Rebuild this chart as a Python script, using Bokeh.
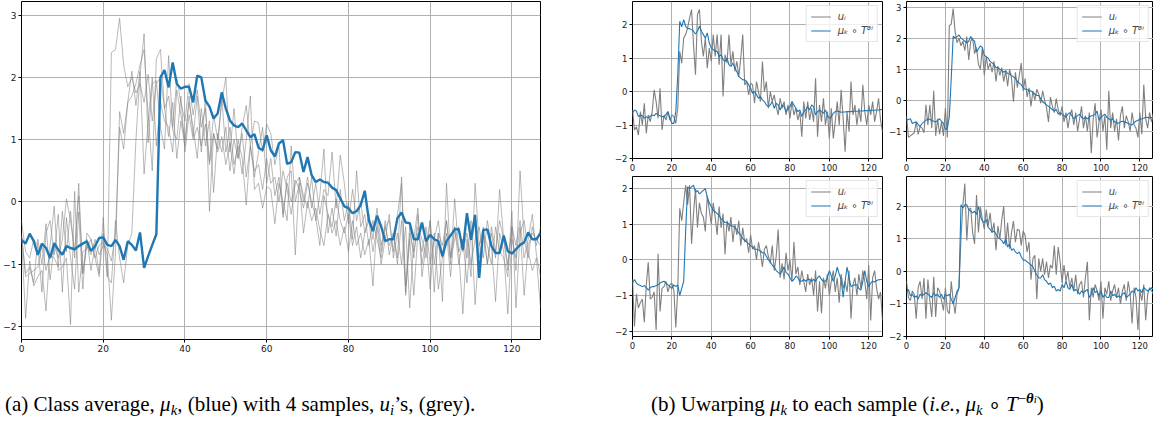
from bokeh.plotting import figure
from bokeh.layouts import row, column
from bokeh.models import Range1d, FixedTicker, Div, Spacer
from bokeh.embed import file_html
from bokeh.resources import INLINE

x = list(range(128))

class_mean = [
    -0.61, -0.67, -0.51, -0.63, -0.85, -0.67, -0.74, -0.90, -0.66, -0.77, -0.85, -0.71, -0.74, -0.76, -0.71, -0.67,
    -0.63, -0.79, -0.71, -0.58, -0.57, -0.69, -0.71, -0.61, -0.71, -0.93, -0.63, -0.69, -0.78, -0.49, -1.06, -0.87,
    -0.69, -0.52, 2.00, 2.12, 1.84, 2.24, 1.90, 1.82, 1.85, 1.85, 1.60, 2.03, 2.00, 1.63, 1.53, 1.34,
    1.42, 1.76, 1.50, 1.31, 1.23, 1.20, 1.26, 1.15, 1.04, 1.09, 0.87, 0.83, 1.07, 0.83, 0.73, 0.94,
    0.99, 0.61, 0.64, 0.80, 0.79, 0.48, 0.72, 0.43, 0.32, 0.36, 0.32, 0.31, 0.23, 0.19, 0.06, -0.07,
    -0.10, -0.18, -0.15, -0.05, 0.18, -0.29, -0.47, -0.22, -0.39, -0.63, -0.60, -0.60, -0.26, -0.17, -0.33, -0.34,
    -0.60, -0.60, -0.33, -0.63, -0.53, -0.60, -0.63, -0.87, -0.63, -0.54, -0.44, -0.44, -0.77, -0.18, -0.61, -0.21,
    -1.22, -0.45, -0.44, -0.71, -0.82, -0.82, -0.54, -0.79, -0.83, -0.76, -0.69, -0.65, -0.49, -0.60, -0.60, -0.50,
]

sample_1 = [
    -0.55, -1.15, -1.05, -1.30, -0.60, -1.00, -0.35, -1.25, -0.70, -0.90, -0.60, 0.05, -0.30, -0.80, 0.10, -1.15,
    -0.70, -0.85, -0.60, -0.85, -0.70, -0.75, -0.95, -0.50, 1.20, 0.85, 1.60, 1.70, 1.90, 2.20, 2.45, 1.40,
    0.50, 2.30, 2.45, 1.50, 1.05, 1.60, 0.70, 1.30, 0.90, 1.70, 1.05, 1.70, 0.80, 1.70, -0.15, 1.10,
    0.85, 1.70, 0.80, 1.20, 0.60, 0.90, 0.45, 1.00, 1.70, 0.20, 0.30, -0.10, 0.25, 0.20, -0.35, 0.30,
    0.00, -0.30, 0.90, 0.00, 0.30, -0.50, 0.00, -0.30, -0.10, -0.45, -0.70, -0.20, -0.50, -0.30, -0.70, -0.40,
    -0.80, -0.30, -0.70, -0.50, -0.85, -0.60, -1.35, -0.30, -0.80, -0.30, -0.85, -0.50, -0.90, 0.40, -1.35, -0.40,
    -0.90, -0.20, -1.00, -0.60, -1.40, -0.50, -1.40, -0.90, -0.30, -1.00, 0.05, -0.80, -1.80, -0.60, -1.20, 0.30,
    -0.70, -0.40, -1.00, -0.50, -0.90, 0.20, -0.60, -1.00, -0.40, -0.70, -0.30, -0.90, -0.60, -0.20, -0.85, -1.20,
]

sample_2 = [
    -0.50, -1.20, -1.15, -1.10, -1.05, -0.70, -1.10, -0.85, -0.90, -1.05, -0.15, -0.80, -0.15, -0.90, 0.30, -1.15,
    -0.60, -1.10, -0.70, -1.15, -0.25, -1.20, 2.40, 2.45, 2.95, 2.20, 1.85, 2.00, 1.75, 1.90, 1.60, 2.05,
    1.30, 1.90, 2.00, 1.50, 1.70, 1.15, 1.00, 1.70, 0.80, 1.40, 1.00, 1.20, 0.90, 1.25, 0.60, 1.10,
    0.80, 1.05, 0.60, 0.95, 0.45, 1.00, 0.70, -0.05, 0.90, 0.40, 0.80, 1.20, 0.30, 0.70, 0.10, 0.40,
    -0.20, 0.30, 0.00, 0.35, 0.20, -0.10, 0.30, 0.00, -0.25, -0.70, 0.10, -0.20, -0.40, 0.05, -0.30, -0.50,
    -0.20, -0.70, -0.40, -0.90, -0.50, -0.30, -0.80, -0.40, -1.00, -0.60, -0.20, -0.90, -0.50, -1.00, -0.40, -1.70,
    -0.60, -0.10, -1.20, -0.70, -0.30, -1.00, -0.50, -1.60, 0.30, -0.90, -0.40, -1.00, -0.60, -1.30, -0.50, -0.20,
    -0.90, -0.50, -0.70, -1.00, -0.40, -0.80, -0.90, -1.20, -0.40, -1.10, 0.50, -0.60, -0.90, -0.40, -0.70, -0.40,
]

sample_3 = [
    -0.55, -1.87, -0.95, -1.35, -1.20, -1.10, -1.75, -0.70, -0.07, -1.10, -1.05, -0.90, -1.97, 0.17, -1.45, -0.80,
    -0.75, -0.60, -0.90, -0.70, -0.65, -0.85, -1.90, -0.80, 1.45, 1.10, 1.60, 2.10, 1.55, 2.10, 0.45, 1.30,
    2.00, 0.90, 1.60, 1.30, 1.20, 0.80, 1.80, 1.40, 1.00, 1.60, 1.20, 0.70, 1.50, 0.90, 1.30, 0.15,
    1.10, 0.80, 1.20, 0.50, 1.00, 0.70, 1.10, 0.40, 0.90, 0.50, 0.60, 0.20, 0.70, 0.30, 0.40, 0.00,
    0.50, 0.20, -0.20, 0.30, 0.40, 0.10, -0.10, 0.40, -0.30, 0.10, 0.85, -0.50, -0.10, -0.55, 0.20, -0.30,
    0.00, -0.60, 0.50, -0.40, -0.20, -0.70, -0.30, -0.60, -0.90, -0.40, -0.70, -0.50, -1.00, -0.30, -1.45, -0.60,
    -1.50, -0.50, -0.80, -0.40, -1.00, -0.60, -0.30, -0.90, -0.50, -1.20, -0.40, -0.80, -0.60, -0.90, -0.30, -1.65,
    -0.70, -0.50, -1.00, -0.40, -0.80, -0.30, -0.60, -1.10, -0.15, -1.70, -0.50, -0.30, -0.80, -1.10, -0.90, -1.70,
]

sample_4 = [
    -0.30, -0.80, -0.90, -0.60, -0.70, -1.45, -0.50, -0.30, -0.85, -0.20, -1.45, -0.25, -0.90, -1.40, -0.16, -1.40,
    -0.50, -0.60, -0.90, -1.20, -0.50, -1.20, -1.30, -0.30, -0.90, -1.30, -0.70, -0.50, 1.00, 2.05, 2.70, 0.95,
    1.90, 1.95, 1.20, 0.85, 2.35, 1.20, 1.98, 1.60, 1.30, 1.90, 1.40, 1.80, 1.20, 1.50, 0.65, 1.40,
    1.00, 1.60, 2.00, 0.80, 1.50, 0.70, 1.20, 1.55, 0.90, 1.30, 1.27, 0.80, 1.25, 1.10, 0.60, 0.90,
    -0.25, 0.40, 0.50, -0.85, 0.40, 0.00, 0.40, -0.10, 0.30, -0.20, 0.20, 0.10, 0.80, -0.10, 0.75, 0.30,
    -0.35, 0.20, -0.30, 0.00, -0.50, -0.20, -0.60, -0.10, -0.70, -0.40, -0.30, -0.80, -0.20, 0.30, -1.50, -0.50,
    -0.80, -0.40, -0.60, -0.90, -0.30, -1.45, -0.50, -0.70, -0.30, -0.90, -0.60, -0.40, -0.80, -0.50, -1.00, -0.60,
    -0.40, -0.90, -0.30, -0.70, -1.60, -0.50, -0.80, -1.80, -0.60, -0.90, -0.40, -1.50, -0.70, -0.50, -0.60, -0.70,
]

warped_1 = [
    -0.65, -0.55, -0.58, -0.75, -0.70, -0.72, -0.80, -0.75, -0.78, -0.74, -0.70, -0.72, -0.65, -0.70, -0.72, -0.75,
    -0.75, -0.68, -0.60, -0.80, -0.95, -0.95, -0.60, 0.50, 2.10, 1.93, 2.15, 1.95, 1.88, 1.88, 1.85, 1.80,
    1.72, 1.80, 1.95, 1.80, 1.70, 1.60, 1.75, 1.45, 1.30, 1.25, 1.20, 1.20, 1.05, 1.10, 0.95, 0.90,
    1.00, 0.80, 0.75, 0.85, 0.70, 0.60, 0.45, 0.40, 0.35, 0.35, 0.30, 0.20, 0.10, -0.05, 0.00, -0.10,
    -0.20, -0.15, -0.25, -0.30, -0.40, -0.45, -0.40, -0.30, -0.50, -0.35, -0.40, -0.55, -0.40, -0.45, -0.60, -0.50,
    -0.45, -0.30, -0.40, -0.50, -0.60, -0.55, -0.75, -0.60, -0.55, -0.45, -0.55, -0.40, -0.45, -0.70, -0.60, -0.55,
    -0.60, -0.65, -0.55, -0.70, -0.80, -0.75, -0.65, -0.60, -0.58, -0.60, -0.62, -0.61, -0.61, -0.60, -0.60, -0.60,
    -0.59, -0.59, -0.59, -0.58, -0.58, -0.58, -0.57, -0.57, -0.57, -0.56, -0.56, -0.56, -0.55, -0.55, -0.54, -0.53,
]

warped_2 = [
    -0.65, -0.62, -0.60, -0.75, -0.72, -0.70, -0.78, -0.85, -0.75, -0.70, -0.65, -0.60, -0.62, -0.65, -0.68, -0.70,
    -0.65, -0.60, -0.68, -0.75, -0.95, -0.90, -0.55, 0.70, 2.06, 2.00, 2.05, 2.10, 2.00, 1.95, 1.90, 1.85,
    1.90, 2.05, 1.95, 1.90, 1.55, 1.65, 1.75, 1.70, 1.45, 1.40, 1.35, 1.25, 1.20, 1.15, 1.05, 1.05,
    1.00, 0.95, 0.90, 0.95, 0.85, 0.85, 0.80, 0.75, 0.70, 0.60, 0.55, 0.50, 0.40, 0.35, 0.35, 0.30,
    0.30, 0.25, 0.20, 0.15, 0.15, 0.05, -0.05, -0.10, -0.15, -0.20, -0.25, -0.30, -0.35, -0.30, -0.45, -0.40,
    -0.45, -0.50, -0.55, -0.45, -0.40, -0.50, -0.60, -0.55, -0.50, -0.45, -0.55, -0.60, -0.55, -0.60, -0.55, -0.50,
    -0.50, -0.45, -0.35, -0.65, -0.55, -0.50, -0.45, -0.55, -0.60, -0.65, -0.60, -0.70, -0.72, -0.75, -0.70, -0.68,
    -0.70, -0.72, -0.75, -0.78, -0.80, -0.72, -0.68, -0.65, -0.62, -0.60, -0.58, -0.55, -0.56, -0.57, -0.56, -0.55,
]

warped_3 = [
    -0.65, -0.55, -0.65, -0.70, -0.72, -0.75, -0.72, -0.78, -0.85, -0.78, -0.75, -0.75, -0.72, -0.70, -0.65, -0.62,
    -0.60, -0.65, -0.70, -0.75, -0.80, -0.70, -0.75, -0.70, -1.00, -0.80, -0.60, 0.80, 2.05, 2.00, 2.05, 2.10,
    1.90, 1.95, 1.85, 1.90, 1.95, 2.00, 1.75, 1.60, 1.50, 1.40, 1.35, 1.30, 1.25, 1.15, 1.10, 1.05,
    1.05, 1.00, 0.95, 0.95, 0.90, 0.85, 0.75, 0.70, 0.60, 0.55, 0.50, 0.45, 0.40, 0.35, 0.30, 0.30,
    0.28, 0.25, 0.20, 0.20, 0.10, 0.00, -0.05, -0.15, -0.20, -0.30, -0.35, -0.40, -0.30, -0.20, -0.35, -0.40,
    -0.50, -0.60, -0.55, -0.45, -0.50, -0.60, -0.60, -0.55, -0.60, -0.55, -0.55, -0.60, -0.55, -0.60, -0.50, -0.45,
    -0.55, -0.60, -0.60, -0.50, -0.30, -0.45, -0.60, -0.45, -0.20, -0.40, -0.55, -1.05, -0.60, -0.20, -0.50, -0.75,
    -0.72, -0.70, -0.70, -0.80, -0.85, -0.60, -0.30, -0.60, -0.75, -0.65, -0.60, -0.62, -0.58, -0.56, -0.55, -0.55,
]

warped_4 = [
    -0.65, -0.55, -0.75, -0.70, -0.80, -0.75, -0.85, -0.70, -0.75, -0.70, -0.65, -0.70, -0.75, -0.80, -0.65, -0.75,
    -0.70, -0.80, -0.70, -0.85, -0.70, -0.75, -0.70, -0.85, -1.00, -0.80, -0.60, -0.50, 2.05, 1.95, 2.05, 2.05,
    1.90, 1.85, 1.80, 1.85, 1.75, 2.00, 1.70, 1.55, 1.50, 1.60, 1.35, 1.30, 1.20, 1.25, 1.15, 1.05,
    1.00, 0.95, 0.85, 1.00, 0.75, 0.85, 0.65, 0.70, 0.60, 0.55, 0.60, 0.45, 0.35, 0.35, 0.30, 0.25,
    0.20, 0.15, 0.00, -0.10, -0.20, -0.20, -0.10, -0.25, -0.30, -0.40, -0.35, -0.50, -0.45, -0.60, -0.55, -0.60,
    -0.40, -0.50, -0.30, -0.50, -0.55, -0.40, -0.60, -0.55, -0.60, -0.70, -0.60, -0.65, -0.60, -0.55, -0.80, -0.70,
    -0.50, -0.65, -0.60, -0.75, -0.60, -0.80, -0.70, -0.80, -0.80, -0.60, -0.75, -0.70, -0.80, -0.75, -0.80, -0.70,
    -0.65, -0.80, -0.75, -0.70, -0.60, -0.65, -0.50, -0.60, -0.55, -0.65, -0.50, -0.55, -0.60, -0.55, -0.50, -0.55,
]

samples = [sample_1, sample_2, sample_3, sample_4]
warped = [warped_1, warped_2, warped_3, warped_4]
x_ticks = [0, 20, 40, 60, 80, 100, 120]
sub_y_ticks = [[-2, -1, 0, 1, 2], [-1, 0, 1, 2, 3], [-2, -1, 0, 1, 2], [-2, -1, 0, 1, 2]]
sub_y_ranges = [(-2.0, 2.69), (-1.88, 3.18), (-2.15, 2.34), (-2.0, 2.92)]
legend_labels = ["u\u1d62", "\u03bc\u2096 \u2218 T\u1dbf\u2071"]

BLUE = "#1f77b4"
GREY = "#808080"


def style(p, yticks, font_size="9px"):
    p.outline_line_color = "black"
    p.outline_line_width = 1
    p.background_fill_color = "white"
    p.border_fill_color = "white"
    for ax in (p.xaxis[0], p.yaxis[0]):
        ax.axis_line_color = None
        ax.major_tick_out = 3
        ax.major_tick_in = 0
        ax.major_tick_line_color = "black"
        ax.minor_tick_line_color = None
        ax.major_label_text_font = "DejaVu Sans"
        ax.major_label_text_font_size = font_size
        ax.major_label_text_color = "#1a1a1a"
        ax.major_label_standoff = 2
    p.xaxis[0].ticker = FixedTicker(ticks=x_ticks)
    p.yaxis[0].ticker = FixedTicker(ticks=yticks)
    p.yaxis[0].major_label_overrides = {t: ("\u2212" + str(-t) if t < 0 else str(t)) for t in yticks}
    for g in p.grid:
        g.grid_line_color = "#b0b0b0"
        g.grid_line_width = 1


# ---- panel (a) ----
pa = figure(width=542, height=357, output_backend="svg", toolbar_location=None,
            x_range=Range1d(0, 127), y_range=Range1d(-2.21, 3.22),
            min_border_left=16, min_border_right=2, min_border_top=1, min_border_bottom=18)
style(pa, [-2, -1, 0, 1, 2, 3])
for s in samples:
    pa.line(x, s, line_color=GREY, line_alpha=0.55, line_width=1)
pa.line(x, class_mean, line_color=BLUE, line_width=2.4)

# ---- panel (b) ----
subs = []
for k in range(4):
    top = k < 2
    left = k % 2 == 0
    w = 274 if left else 269
    h = 175 if top else 179
    p = figure(width=w, height=h, output_backend="svg", toolbar_location=None,
               x_range=Range1d(0, 127), y_range=Range1d(*sub_y_ranges[k]),
               min_border_left=22, min_border_right=2 if left else 0,
               min_border_top=1, min_border_bottom=17 if top else 18)
    style(p, sub_y_ticks[k], "8.5px")
    p.line(x, samples[k], line_color=GREY, line_width=1.1, legend_label=legend_labels[0])
    p.line(x, warped[k], line_color=BLUE, line_width=1.1, legend_label=legend_labels[1])
    lg = p.legend[0]
    lg.location = "top_right"
    lg.margin = 4
    lg.padding = 4
    lg.spacing = 1
    lg.glyph_width = 20
    lg.glyph_height = 13
    lg.label_height = 13
    lg.label_standoff = 7
    lg.label_text_font = "DejaVu Sans"
    lg.label_text_font_style = "italic"
    lg.label_text_font_size = "10px"
    lg.border_line_color = "#cccccc"
    lg.border_line_width = 1
    lg.background_fill_alpha = 0.8
    subs.append(p)

grid_b = column(row(subs[0], subs[1]), row(subs[2], subs[3]))
top_row = row(pa, Spacer(width=68, height=10), grid_b)

cap_style = ("font-family:'Liberation Serif','Times New Roman',serif;font-size:21px;white-space:nowrap;"
             "color:#000;line-height:20px;")
sub_s = "font-size:0.7em;line-height:0;vertical-align:-0.25em;"
sup_s = "font-size:0.7em;line-height:0;vertical-align:0.55em;"
cap_a = Div(text=f"<div style=\"{cap_style}\">(a) Class average, <i>\u03bc</i><sub style='{sub_s}'><i>k</i></sub>, "
                 f"(blue) with 4 samples, <i>u</i><sub style='{sub_s}'><i>i</i></sub>\u2019s, (grey).</div>",
            width=610, height=53, styles={"padding-top": "32px", "padding-left": "0px"})
cap_b = Div(text=f"<div style=\"{cap_style}\">(b) Uwarping <i>\u03bc</i><sub style='{sub_s}'><i>k</i></sub> "
                 f"to each sample (<i>i.e.</i>, <i>\u03bc</i><sub style='{sub_s}'><i>k</i></sub> \u2218 "
                 f"<i>T</i><span style='{sup_s}'>\u2212<b><i>\u03b8</i></b>"
                 f"<span style='font-size:0.75em;'><i>i</i></span></span>)</div>",
            width=543, height=53, styles={"padding-top": "32px", "padding-left": "26px"})
layout = column(top_row, row(cap_a, cap_b))

open("out.html", "w").write(file_html(layout, INLINE))
